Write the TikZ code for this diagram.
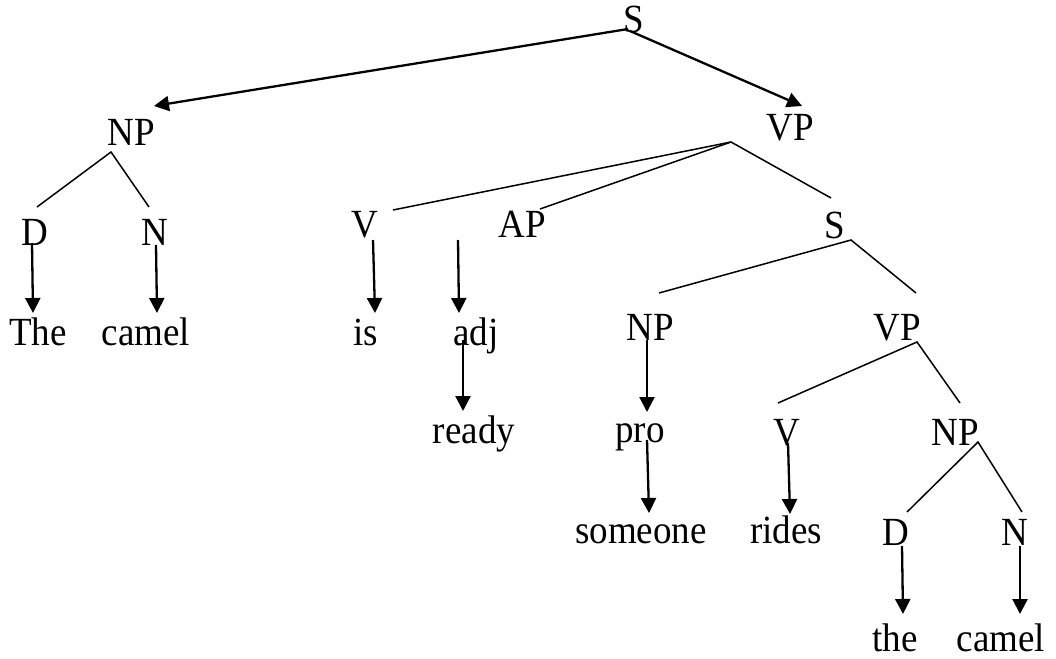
\documentclass[tikz,border=0pt]{standalone}
\usepackage{fontspec}
\setmainfont{Liberation Serif}
\usetikzlibrary{arrows.meta}
\newcommand{\tall}[1]{\scalebox{1}[1.08]{#1}}
\tikzset{
  lbl/.style={font=\fontsize{37}{40}\selectfont, anchor=base, inner sep=0pt},
  arr/.style={line width=2.3pt, -{Triangle[length=15pt,width=15pt]}},
  branch/.style={line width=1.5pt}
}
\begin{document}
\begin{tikzpicture}[x=1pt,y=-1pt]
\useasboundingbox (0,0) rectangle (1056,658);
% labels
\node[lbl] (S0) at (634,33) {\tall{S}};
\node[lbl] (NP1) at (131,145) {\tall{NP}};
\node[lbl] (VP1) at (790,140) {\tall{VP}};
\node[lbl] (D1) at (35,245) {\tall{D}};
\node[lbl] (N1) at (155,245) {\tall{N}};
\node[lbl] (The) at (38,345) {\tall{The}};
\node[lbl] (camel1) at (146,345) {\tall{camel}};
\node[lbl] (V1) at (365,237) {\tall{V}};
\node[lbl] (AP) at (522,237) {\tall{AP}};
\node[lbl] (S1) at (835,238) {\tall{S}};
\node[lbl] (is) at (366,345) {\tall{is}};
\node[lbl] (adj) at (476,345) {\tall{adj}};
\node[lbl] (NP2) at (650,340) {\tall{NP}};
\node[lbl] (VP2) at (897,340) {\tall{VP}};
\node[lbl] (ready) at (474,443) {\tall{ready}};
\node[lbl] (pro) at (640,442) {\tall{pro}};
\node[lbl] (V2) at (787,445) {\tall{V}};
\node[lbl] (NP3) at (955,445) {\tall{NP}};
\node[lbl] (someone) at (641,543) {\tall{someone}};
\node[lbl] (rides) at (786,543) {\tall{rides}};
\node[lbl] (D2) at (896,545) {\tall{D}};
\node[lbl] (N2) at (1015,545) {\tall{N}};
\node[lbl] (the) at (895,651) {\tall{the}};
\node[lbl] (camel2) at (1001,651) {\tall{camel}};
% connector ends
\coordinate (S0a) at (628,29);
\coordinate (S0b) at (630,31);
\coordinate (NP1tip) at (154,106);
\coordinate (VP1tip) at (802,106);
\coordinate (NP1top) at (111,152);
\coordinate (D1top) at (37,207);
\coordinate (N1top) at (149,207);
\coordinate (VP1bot) at (731,142);
\coordinate (V1top) at (393,210);
\coordinate (APtop) at (540,209);
\coordinate (S1top) at (831,198);
\coordinate (S1bot) at (851,240);
\coordinate (NP2top) at (659,293);
\coordinate (VP2top) at (916,293);
\coordinate (VP2bot) at (917,342);
\coordinate (V2top) at (778,403);
\coordinate (NP3top) at (960,403);
\coordinate (NP3bot) at (978,442);
\coordinate (D2top) at (907,512);
\coordinate (N2top) at (1022,512);
\coordinate (D1a) at (32,243);   \coordinate (D1b) at (33,313);
\coordinate (N1a) at (156,245);  \coordinate (N1b) at (157,313);
\coordinate (V1a) at (373,240);  \coordinate (V1b) at (375,313);
\coordinate (APa) at (458,240);  \coordinate (APb) at (459,313);
\coordinate (adja) at (463,340); \coordinate (adjb) at (463,411);
\coordinate (NP2a) at (647,340); \coordinate (NP2b) at (647,412);
\coordinate (proa) at (647,440); \coordinate (prob) at (649,513);
\coordinate (V2a) at (788,443);  \coordinate (V2b) at (790,514);
\coordinate (D2a) at (902,546);  \coordinate (D2b) at (903,614);
\coordinate (N2a) at (1020,546); \coordinate (N2b) at (1020,614);
% arrows
\draw[arr] (S0a) -- (NP1tip);
\draw[arr] (S0b) -- (VP1tip);
\draw[arr] (D1a) -- (D1b);
\draw[arr] (N1a) -- (N1b);
\draw[arr] (V1a) -- (V1b);
\draw[arr] (APa) -- (APb);
\draw[arr] (adja) -- (adjb);
\draw[arr] (NP2a) -- (NP2b);
\draw[arr] (proa) -- (prob);
\draw[arr] (V2a) -- (V2b);
\draw[arr] (D2a) -- (D2b);
\draw[arr] (N2a) -- (N2b);
% branches
\draw[branch] (D1top) -- (NP1top) -- (N1top);
\draw[branch] (V1top) -- (VP1bot) -- (S1top);
\draw[branch] (APtop) -- (VP1bot);
\draw[branch] (NP2top) -- (S1bot) -- (VP2top);
\draw[branch] (V2top) -- (VP2bot) -- (NP3top);
\draw[branch] (D2top) -- (NP3bot) -- (N2top);
\end{tikzpicture}
\end{document}
